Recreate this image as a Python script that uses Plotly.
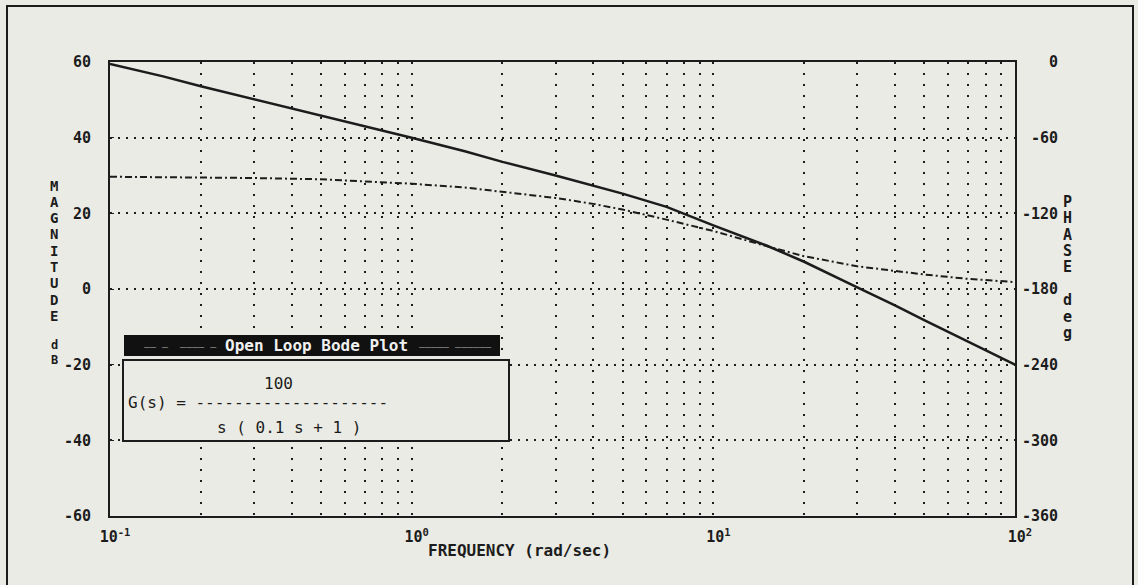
import plotly.graph_objects as go

# ---- data ----
freq_mag = [0.1, 0.15, 0.2, 0.3, 0.4, 0.5, 0.7, 1, 1.5, 2, 3, 4, 5, 7, 10, 15, 20, 30, 40, 50, 70, 100]
mag_db = [59.5, 56.2, 53.6, 50.2, 47.8, 45.9, 43.0, 40.0, 36.4, 33.6, 30.0, 27.4, 25.2, 21.7, 16.8, 11.5, 7.2, 0.4, -4.3, -8.2, -14.0, -20.0]

freq_ph = [0.1, 0.2, 0.3, 0.5, 0.7, 1, 1.5, 2, 3, 4, 5, 7, 10, 15, 20, 30, 40, 50, 70, 100]
phase_deg = [-91, -91.5, -92, -93, -94.5, -96.5, -99.5, -103, -107.8, -112.5, -117, -125, -134, -146, -154, -162, -166, -168.5, -172, -174.5]

x_tickvals = [0.1, 1, 10, 100]
x_ticktext = ["10<sup>-1</sup>", "10<sup>0</sup>", "10<sup>1</sup>", "10<sup>2</sup>"]
y_tickvals = [60, 40, 20, 0, -20, -40, -60]
y_ticktext = ["60", "40", "20", "0", "-20", "-40", "-60"]
y2_tickvals = [0, -60, -120, -180, -240, -300, -360]
y2_labels = ["0", "-60", "-120", "-180", "-240", "-300", "-360"]

BG = "#EBEBE5"
INK = "#1C1C1C"
FONT = "DejaVu Sans Mono"

W, H = 1138, 585
L, R, T, B = 110, 123, 62, 69
PW, PH = W - L - R, H - T - B


def px(x):
    return (x - L) / PW


def py(y):
    return (H - B - y) / PH


fig = go.Figure()
fig.add_trace(go.Scatter(x=freq_mag, y=mag_db, mode="lines",
                         line=dict(color=INK, width=2.5), yaxis="y", showlegend=False))
fig.add_trace(go.Scatter(x=freq_ph, y=phase_deg, mode="lines",
                         line=dict(color=INK, width=2, dash="7px,3px,2px,3px"),
                         yaxis="y2", showlegend=False))

minor_vals = [m * 10 ** e for e in (-1, 0, 1) for m in range(2, 10)]

fig.update_layout(
    width=W, height=H,
    margin=dict(l=L, r=R, t=T, b=B, autoexpand=False),
    paper_bgcolor=BG, plot_bgcolor=BG,
    font=dict(family=FONT, size=15, color=INK),
    xaxis=dict(type="log", range=[-1, 2], tickvals=x_tickvals, ticktext=x_ticktext,
               showgrid=True, gridcolor=INK, gridwidth=2, griddash="2px,9px",
               showline=True, linecolor=INK, linewidth=2, mirror=True,
               ticks="", ticklabelstandoff=6, ticklabelshift=5,
               tickfont=dict(family=FONT, size=15, color=INK, weight="bold"),
               minor=dict(tickvals=minor_vals, showgrid=True, gridcolor=INK,
                          gridwidth=2, griddash="2px,9px", ticks=""),
               zeroline=False, automargin=False),
    yaxis=dict(range=[-60, 60], tickvals=y_tickvals, ticktext=y_ticktext,
               showgrid=True, gridcolor=INK, gridwidth=2, griddash="2px,6px",
               showline=True, linecolor=INK, linewidth=2, mirror=True,
               ticks="inside", ticklen=4, tickcolor=INK, ticklabelstandoff=14,
               tickfont=dict(family=FONT, size=15, color=INK, weight="bold"),
               zeroline=False, automargin=False),
    yaxis2=dict(range=[-360, 0], overlaying="y", side="right",
                tickvals=y2_tickvals,
                ticktext=["\u00a0" * (4 - len(s)) + s for s in y2_labels],
                showgrid=False, showline=True, linecolor=INK, linewidth=2,
                ticks="", ticklabelstandoff=2,
                tickfont=dict(family=FONT, size=15, color=INK, weight="bold"),
                zeroline=False, automargin=False),
)

shapes = []
# outer frame
shapes.append(dict(type="rect", xref="paper", yref="paper",
                   x0=px(7), x1=px(1133), y0=py(600), y1=py(6),
                   line=dict(color=INK, width=2), fillcolor="rgba(0,0,0,0)", layer="above"))
# legend box
shapes.append(dict(type="rect", xref="paper", yref="paper",
                   x0=px(123), x1=px(509), y0=py(441), y1=py(360),
                   line=dict(color=INK, width=2), fillcolor=BG, layer="above"))
# header bar
shapes.append(dict(type="rect", xref="paper", yref="paper",
                   x0=px(124), x1=px(500), y0=py(356), y1=py(335),
                   line=dict(color="#111111", width=0), fillcolor="#111111", layer="above"))
fig.update_layout(shapes=shapes)


def note(x, y, text, size=16, color=INK, bold=False, xanchor="center", h=None):
    d = dict(x=px(x), y=py(y), xref="paper", yref="paper", showarrow=False,
             xanchor=xanchor, yanchor="middle", text=text,
             font=dict(family=FONT, size=size, color=color, weight="bold" if bold else "normal"))
    if h is not None:
        d["height"] = h
        d["borderpad"] = 0
    return d


ann = []
ann.append(note(316, 345.5, "Open Loop Bode Plot", 16, "#F0F0F0", True))
ann.append(note(180, 345.5, "\u2012\u2012 \u2012  \u2012\u2012\u2012\u2012 \u2012", 10, "#8A8A8A", h=12))
ann.append(note(455, 345.5, "\u2012\u2012\u2012\u2012\u2012 \u2012\u2012\u2012\u2012\u2012\u2012", 10, "#8A8A8A", h=12))
ann.append(note(278, 383, "100"))
ann.append(note(126, 402, "G(s) = " + "-" * 20, xanchor="left"))
ann.append(note(215, 427, "s ( 0.1 s + 1 )", xanchor="left"))
# x axis title
ann.append(note(519, 550, "FREQUENCY (rad/sec)", 16, bold=True))
# stacked axis titles
for i, ch in enumerate("MAGNITUDE"):
    ann.append(note(54, 185 + i * 16.3, ch, 14, bold=True, h=13))
for i, ch in enumerate("dB"):
    ann.append(note(54, 345 + i * 14.5, ch, 12, bold=True, h=12))
for i, ch in enumerate("PHASE"):
    ann.append(note(1067, 202 + i * 16.3, ch, 15, bold=True, h=14))
for i, ch in enumerate("deg"):
    ann.append(note(1067, 300 + i * 16.5, ch, 15, bold=True, h=16))
fig.update_layout(annotations=ann)

fig.write_html("out.html", config={"displayModeBar": False},
               post_script="document.body.style.margin='0px';")
